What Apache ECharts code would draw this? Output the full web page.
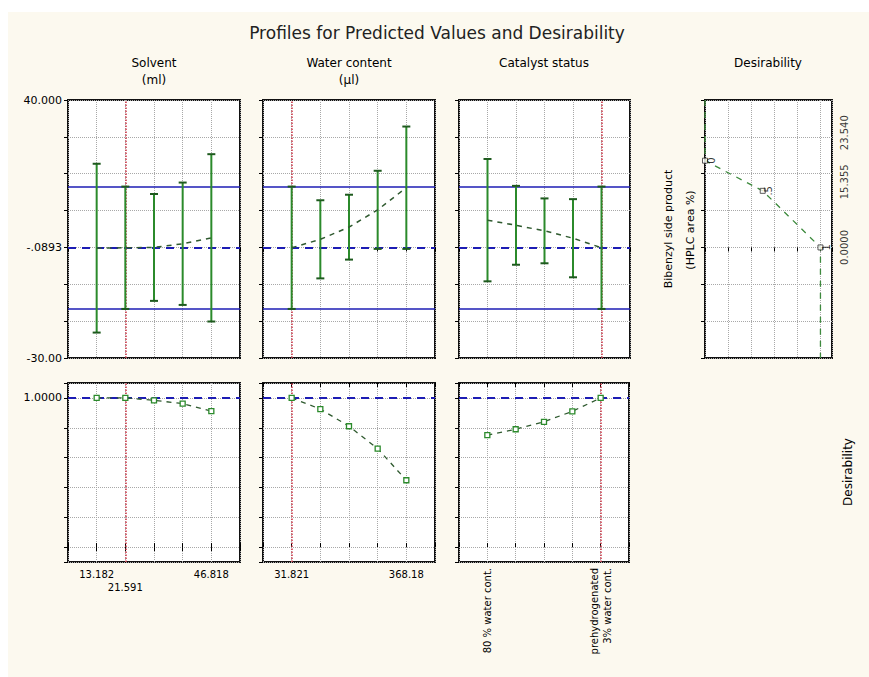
<!DOCTYPE html>
<html>
<head>
<meta charset="utf-8">
<script src="https://cdn.jsdelivr.net/npm/echarts@6/dist/echarts.min.js"></script>
<style>
  html, body { margin: 0; padding: 0; background: #ffffff; }
  #chart { width: 869px; height: 677px; }
</style>
</head>
<body>
<div id="chart"></div>
<script>
// ---------------- data ----------------
const chartTitle = 'Profiles for Predicted Values and Desirability';
const responseTitle = ['Bibenzyl side product', '(HPLC area %)'];
const desirTitle = 'Desirability';

// response axis (HPLC area %)
const respMin = -30, respMax = 40, respStep = 10;
const respTickText = { '40': '40.000', '0': '-.0893', '-30': '-30.00' };
const currentResponse = -0.0893;
const currentHalfWidth = 16.6;
const currentDesirability = 1.0;

// factor 1: Solvent (ml)
const solventTitle = ['Solvent', '(ml)'];
const solventLevels = ['13.182', '21.591', '30.000', '38.409', '46.818'];
const solventTicks = ['13.182', '\n21.591', '', '', '46.818'];
const solventCurrent = 1;
const solventMean = [-0.2, -0.0893, 0.0, 1.0, 2.6];
const solventHalf = [22.9, 16.6, 14.5, 16.6, 22.7];
const solventDesir = [1.0, 1.0, 0.984, 0.962, 0.912];

// factor 2: Water content (µl)
const waterTitle = ['Water content', '(µl)'];
const waterLevels = ['31.821', '115.91', '200.00', '284.09', '368.18'];
const waterTicks = ['31.821', '', '', '', '368.18'];
const waterCurrent = 0;
const waterMean = [-0.0893, 2.2, 5.5, 10.2, 16.2];
const waterHalf = [16.6, 10.6, 8.8, 10.6, 16.6];
const waterDesir = [1.0, 0.925, 0.81, 0.66, 0.448];

// factor 3: Catalyst status
const catalystTitle = ['Catalyst status'];
const catalystTicks = ['80 % water cont.', '', '', '', 'prehydrogenated\n3% water cont.'];
const catalystCurrent = 4;
const catalystMean = [7.4, 6.0, 4.5, 2.5, -0.0893];
const catalystHalf = [16.6, 10.7, 8.8, 10.6, 16.6];
const catalystDesir = [0.75, 0.79, 0.84, 0.91, 1.0];

// desirability function of the response
const desirResponse = [23.54, 15.355, 0.0];
const desirValue = [0, 0.5, 1];
const desirPointText = ['0', '.5', '1'];
const desirAxisText = ['23.540', '15.355', '0.0000'];
const desirTickText = { '1': '1.0000' };

// ---------------- styling ----------------
const FONT = "'DejaVu Sans', Verdana, sans-serif";
const GREEN = '#2b8a2b';
const GREEN_DARK = '#2f5a2f';
const BLUE = '#1c1cb4';
const RED = '#cc3344';
const GRIDC = '#a8a8a8';

const topY = 100, topH = 258, botY = 383, botH = 179;
const colLeft = [68, 263, 459];
const colWidth = [172, 172, 171];
const botWidth = [172, 172, 170];
const desirMaxX = 1.1;
// the breakpoint values are nudged along the edge so they do not collide
const desirAxisShift = [28, 9, 0];

const factors = [
  { title: solventTitle, ticks: solventTicks, cur: solventCurrent, mean: solventMean, half: solventHalf, desir: solventDesir, rotate: 0 },
  { title: waterTitle, ticks: waterTicks, cur: waterCurrent, mean: waterMean, half: waterHalf, desir: waterDesir, rotate: 0 },
  { title: catalystTitle, ticks: catalystTicks, cur: catalystCurrent, mean: catalystMean, half: catalystHalf, desir: catalystDesir, rotate: 90 }
];

const gridBase = { show: true, backgroundColor: '#ffffff', borderColor: '#111111', borderWidth: 2, containLabel: false, outerBoundsMode: 'none' };
const grids = [];
factors.forEach((f, k) => grids.push(Object.assign({ left: colLeft[k], top: topY, width: colWidth[k], height: topH }, gridBase)));
grids.push(Object.assign({ left: 705, top: topY, width: 127, height: topH }, gridBase));
factors.forEach((f, k) => grids.push(Object.assign({ left: colLeft[k], top: botY, width: botWidth[k], height: botH }, gridBase)));

const tickStyle = { show: true, inside: true, length: 4, lineStyle: { color: '#000', width: 1 } };
const splitStyle = { show: true, lineStyle: { color: GRIDC, type: 'dotted', width: 1 } };

function levelAxis(grid, pos, extra) {
  return Object.assign({
    type: 'value', gridIndex: grid, position: pos, min: 0, max: 6, interval: 1,
    axisLine: { show: false }, axisTick: tickStyle, axisLabel: { show: false }, splitLine: { show: false }
  }, extra || {});
}

const xAxes = [];
// 0..2 top panels, level axes along the top edge
factors.forEach((f, k) => xAxes.push(levelAxis(k, 'top', { splitLine: splitStyle })));
// 3 desirability function panel (desirability along x)
xAxes.push({
  type: 'value', gridIndex: 3, position: 'top', min: 0, max: desirMaxX, interval: 0.2,
  axisLine: { show: false }, axisTick: tickStyle, axisLabel: { show: false }, splitLine: splitStyle
});
// 4..6 bottom panels with tick labels
factors.forEach((f, k) => xAxes.push(levelAxis(4 + k, 'bottom', {
  splitLine: splitStyle,
  axisLabel: {
    show: true, interval: 0, margin: 6, rotate: f.rotate, color: '#000',
    fontFamily: FONT, fontSize: 10, lineHeight: 13,
    formatter: v => (v >= 1 && v <= 5) ? f.ticks[v - 1] : ''
  }
})));
// 7..9 bottom panels, ticks along the top edge
factors.forEach((f, k) => xAxes.push(levelAxis(4 + k, 'top')));

function respAxis(grid, pos, extra) {
  return Object.assign({
    type: 'value', gridIndex: grid, position: pos, min: respMin, max: respMax, interval: respStep,
    axisLine: { show: false }, axisTick: tickStyle, axisLabel: { show: false }, splitLine: splitStyle
  }, extra || {});
}
function desAxis(grid, pos, extra) {
  return Object.assign({
    type: 'value', gridIndex: grid, position: pos, min: -0.1, max: 1.1, splitNumber: 6,
    axisLine: { show: false }, axisTick: tickStyle, axisLabel: { show: false }, splitLine: splitStyle
  }, extra || {});
}

const yAxes = [];
factors.forEach((f, k) => yAxes.push(respAxis(k, 'right')));      // 0..2
yAxes.push(respAxis(3, 'right'));                                  // 3
factors.forEach((f, k) => yAxes.push(desAxis(4 + k, 'right')));   // 4..6
// 7: response labels on the left of the first column
yAxes.push(respAxis(0, 'left', {
  axisTick: { show: false }, splitLine: { show: false },
  axisLabel: { show: true, margin: 6, color: '#000', fontFamily: FONT, fontSize: 11,
    formatter: v => respTickText[String(Math.round(v))] || '' }
}));
// 8: desirability labels on the left of the first column
yAxes.push(desAxis(4, 'left', {
  axisTick: { show: false }, splitLine: { show: false },
  axisLabel: { show: true, margin: 6, color: '#000', fontFamily: FONT, fontSize: 11,
    formatter: v => Math.abs(v - 1) < 1e-6 ? desirTickText['1'] : '' }
}));

const series = [];
factors.forEach((f, k) => {
  // confidence bars of the predicted response at each level
  series.push({
    type: 'custom', xAxisIndex: k, yAxisIndex: k, z: 3, silent: true,
    data: f.mean.map((m, i) => [i + 1, m - f.half[i], m + f.half[i]]),
    renderItem: (params, api) => {
      const x = api.value(0);
      const lo = api.coord([x, api.value(1)]);
      const hi = api.coord([x, api.value(2)]);
      const cap = 4;
      return {
        type: 'group',
        children: [
          { type: 'line', shape: { x1: lo[0], y1: lo[1], x2: hi[0], y2: hi[1] }, style: { stroke: GREEN, lineWidth: 2 } },
          { type: 'line', shape: { x1: lo[0] - cap, y1: lo[1], x2: lo[0] + cap, y2: lo[1] }, style: { stroke: '#1e5a1e', lineWidth: 2 } },
          { type: 'line', shape: { x1: hi[0] - cap, y1: hi[1], x2: hi[0] + cap, y2: hi[1] }, style: { stroke: '#1e5a1e', lineWidth: 2 } }
        ]
      };
    },
    markLine: {
      silent: true, symbol: 'none', z: 2, label: { show: false },
      data: [
        { yAxis: currentResponse + currentHalfWidth, lineStyle: { color: BLUE, width: 1.5, type: 'solid' } },
        { yAxis: currentResponse - currentHalfWidth, lineStyle: { color: BLUE, width: 1.5, type: 'solid' } },
        { yAxis: currentResponse, lineStyle: { color: BLUE, width: 2, type: [8, 6] } },
        { xAxis: f.cur + 1, lineStyle: { color: RED, width: 1.5, type: 'dotted' } }
      ]
    }
  });
  // predicted response profile
  series.push({
    type: 'line', xAxisIndex: k, yAxisIndex: k, z: 4, silent: true, symbol: 'none',
    lineStyle: { color: GREEN_DARK, width: 1.5, type: [5, 5] },
    data: f.mean.map((m, i) => [i + 1, m])
  });
  // desirability profile
  series.push({
    type: 'line', xAxisIndex: 4 + k, yAxisIndex: 4 + k, z: 4, silent: true,
    symbol: 'rect', symbolSize: 5,
    itemStyle: { color: '#ffffff', borderColor: GREEN, borderWidth: 1.3 },
    lineStyle: { color: GREEN_DARK, width: 1.3, type: [5, 5] },
    data: f.desir.map((d, i) => [i + 1, d]),
    markLine: {
      silent: true, symbol: 'none', z: 2, label: { show: false },
      data: [
        { yAxis: currentDesirability, lineStyle: { color: BLUE, width: 2, type: [8, 6] } },
        { xAxis: f.cur + 1, lineStyle: { color: RED, width: 1.5, type: 'dotted' } }
      ]
    }
  });
});

// desirability function: response (y) against desirability (x)
series.push({
  type: 'line', xAxisIndex: 3, yAxisIndex: 3, z: 4, silent: true, symbol: 'none',
  lineStyle: { color: '#3d8a3d', width: 1.3, type: [6, 6] },
  data: [[desirValue[0], respMax]]
    .concat(desirValue.map((d, i) => [d, desirResponse[i]]))
    .concat([[desirValue[desirValue.length - 1], respMin]])
});
series.push({
  type: 'scatter', xAxisIndex: 3, yAxisIndex: 3, z: 5, silent: true,
  symbol: 'rect', symbolSize: 5,
  itemStyle: { color: '#ffffff', borderColor: '#333', borderWidth: 1 },
  data: desirValue.map((d, i) => [d, desirResponse[i]]),
  label: {
    show: true, position: 'right', distance: 3, rotate: 90, align: 'center', verticalAlign: 'middle',
    color: '#000', fontFamily: FONT, fontSize: 10,
    formatter: p => desirPointText[p.dataIndex]
  }
});
// breakpoint values written along the right edge
series.push({
  type: 'scatter', xAxisIndex: 3, yAxisIndex: 3, z: 5, silent: true, clip: false,
  symbol: 'circle', symbolSize: 1,
  itemStyle: { color: 'rgba(0,0,0,0)' },
  data: desirResponse.map((r, i) => ({ value: [desirMaxX, r], label: { offset: [desirAxisShift[i], 0] } })),
  label: {
    show: true, position: 'right', distance: 12, rotate: 90, align: 'center', verticalAlign: 'middle',
    color: '#000', fontFamily: FONT, fontSize: 10,
    formatter: p => desirAxisText[p.dataIndex]
  }
});

// ---------------- text & frame ----------------
const graphic = [
  { type: 'rect', shape: { x: 0, y: 0, width: 869, height: 12 }, style: { fill: '#ffffff' }, silent: true },
  { type: 'rect', shape: { x: 0, y: 0, width: 8, height: 677 }, style: { fill: '#ffffff' }, silent: true },
  { type: 'text', x: 437, y: 33, style: { text: chartTitle, font: '17px ' + FONT, fill: '#222', align: 'center', verticalAlign: 'middle' } }
];
const colCenters = [154, 349, 544];
factors.forEach((f, k) => {
  f.title.forEach((t, j) => graphic.push({
    type: 'text', x: colCenters[k], y: 63 + j * 17,
    style: { text: t, font: '12px ' + FONT, fill: '#000', align: 'center', verticalAlign: 'middle' }
  }));
});
graphic.push({ type: 'text', x: 768, y: 63, style: { text: desirTitle, font: '12px ' + FONT, fill: '#000', align: 'center', verticalAlign: 'middle' } });
graphic.push({ type: 'text', x: 668, y: 229, rotation: Math.PI / 2, style: { text: responseTitle[0], font: '11px ' + FONT, fill: '#000', align: 'center', verticalAlign: 'middle' } });
graphic.push({ type: 'text', x: 690, y: 230, rotation: Math.PI / 2, style: { text: responseTitle[1], font: '11px ' + FONT, fill: '#000', align: 'center', verticalAlign: 'middle' } });
graphic.push({ type: 'text', x: 848, y: 472, rotation: Math.PI / 2, style: { text: desirTitle, font: '12px ' + FONT, fill: '#000', align: 'center', verticalAlign: 'middle' } });

const chart = echarts.init(document.getElementById('chart'), null, { renderer: 'svg', width: 869, height: 677 });
chart.setOption({
  animation: false,
  backgroundColor: '#fcf9ef',
  textStyle: { fontFamily: FONT },
  grid: grids,
  xAxis: xAxes,
  yAxis: yAxes,
  series: series,
  graphic: graphic
});
</script>
</body>
</html>
